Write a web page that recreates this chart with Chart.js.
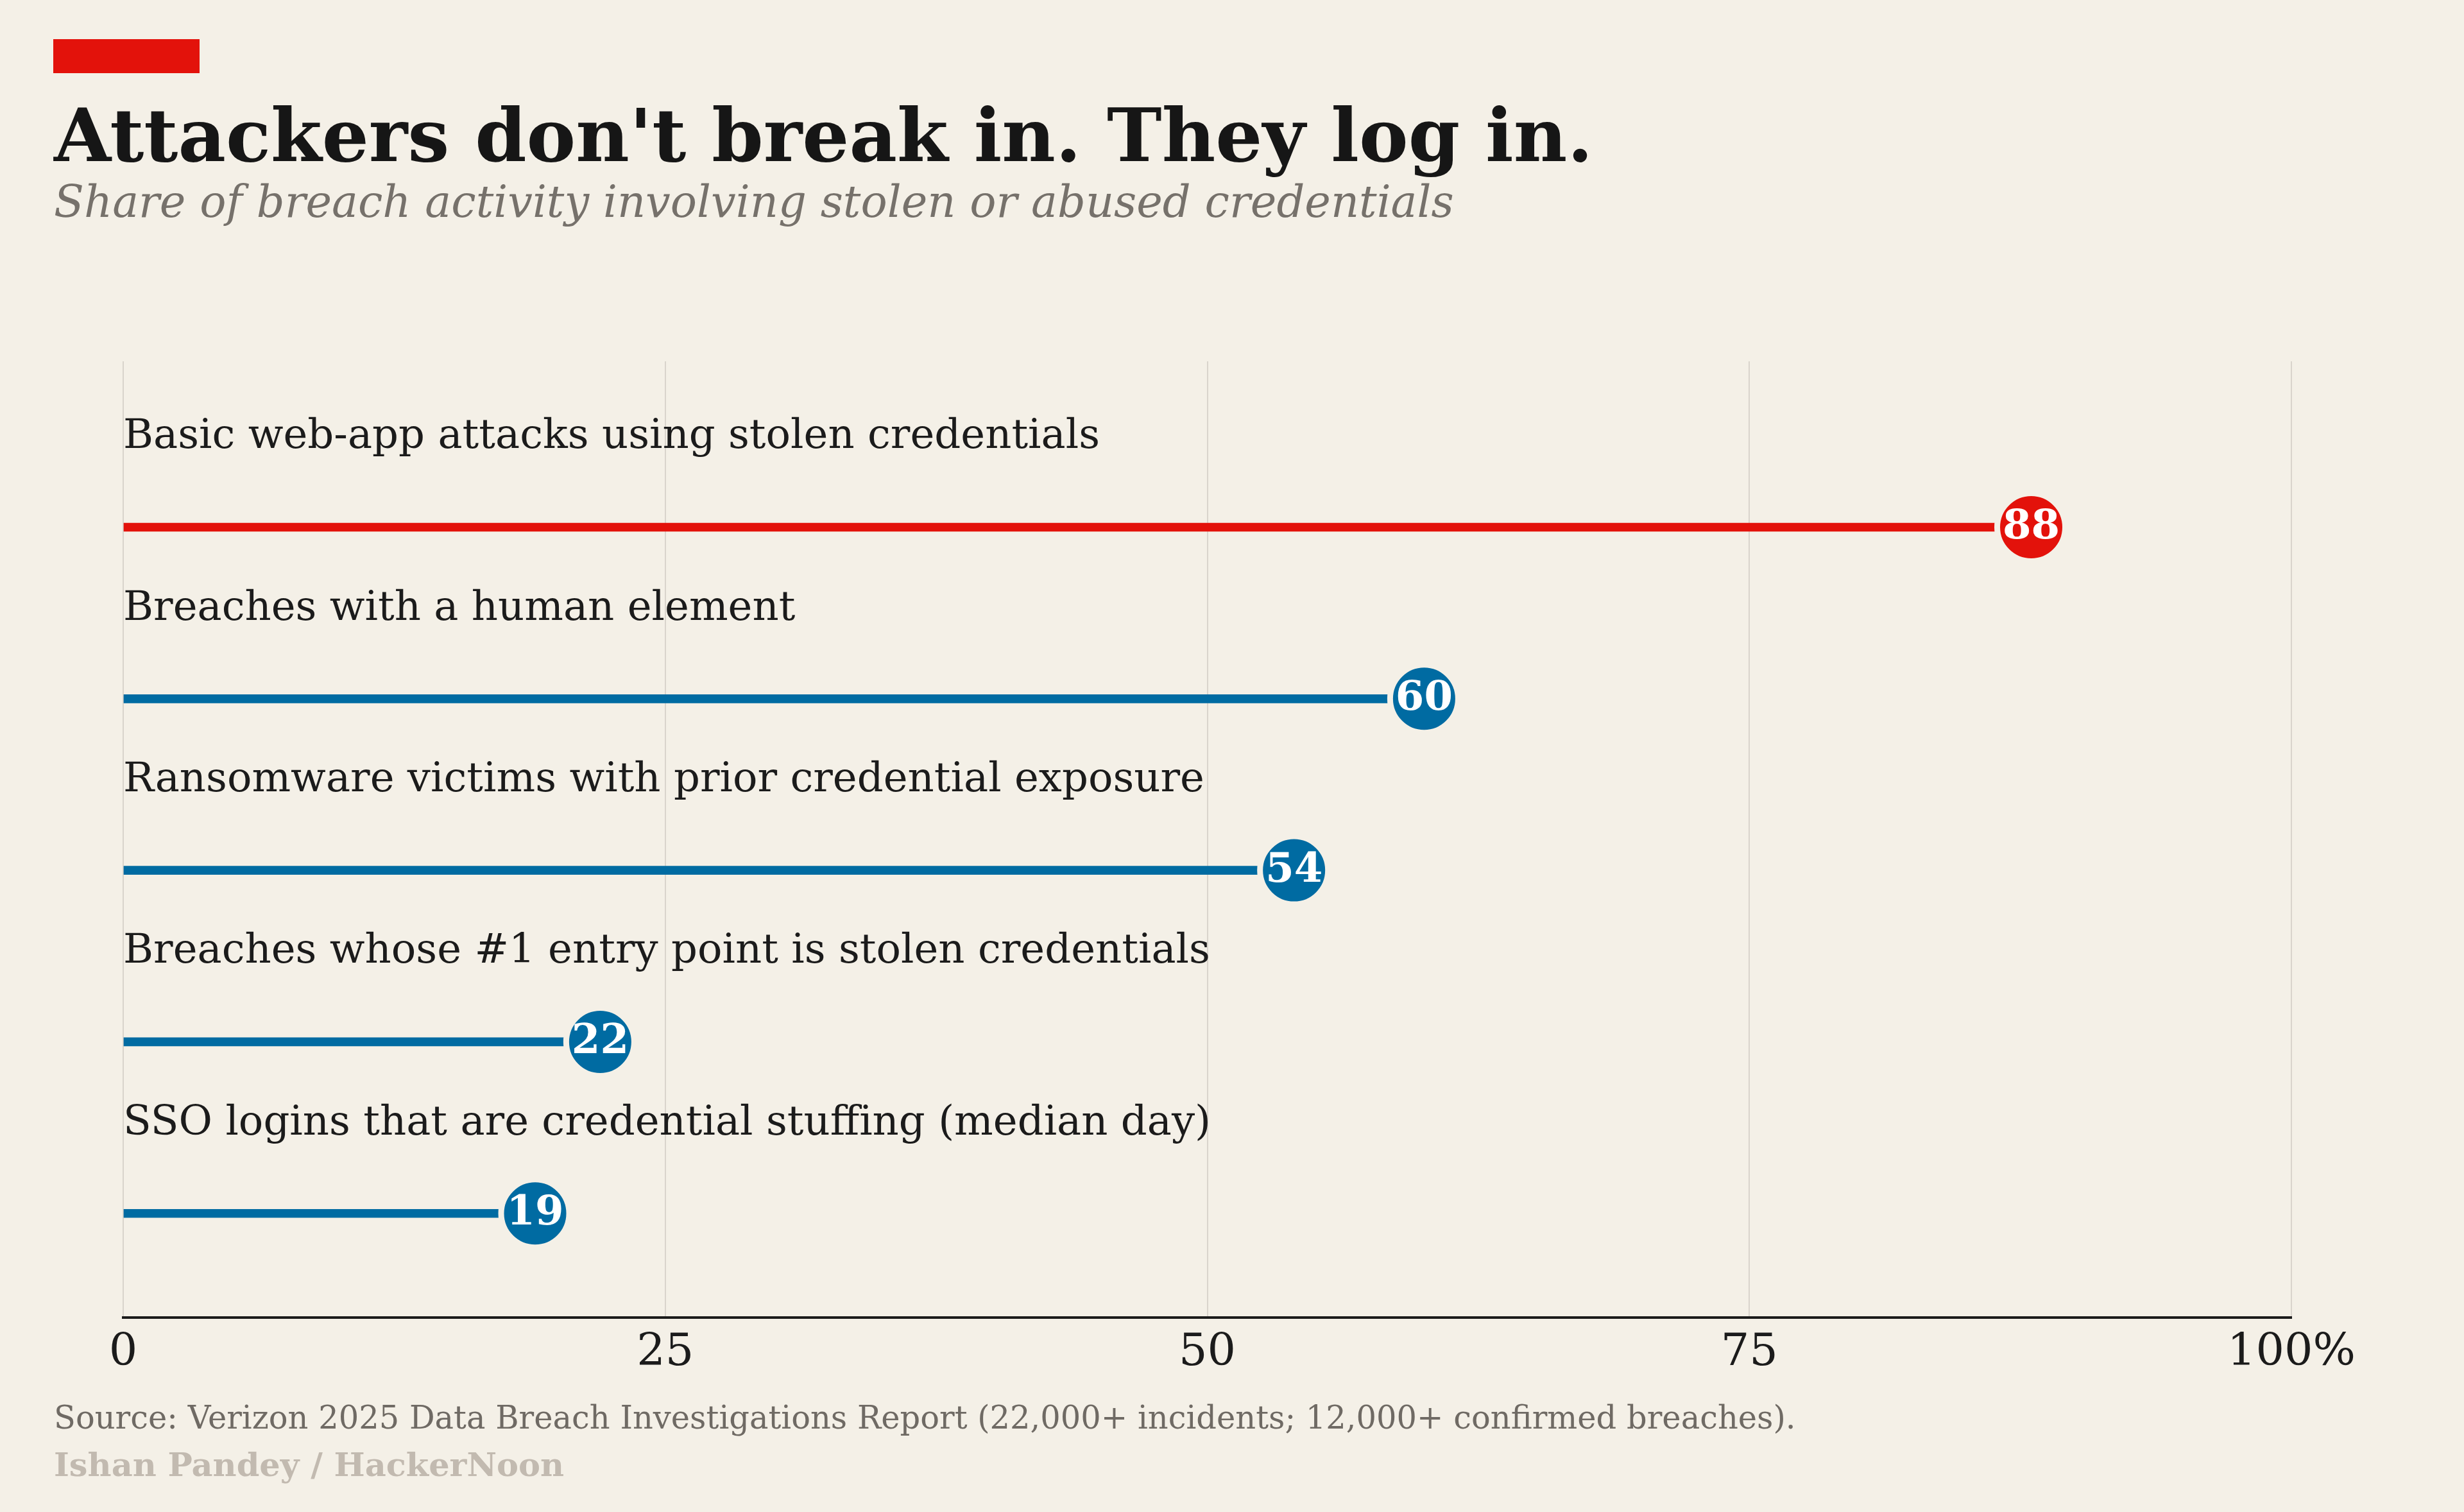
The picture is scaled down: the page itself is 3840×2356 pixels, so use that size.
<!DOCTYPE html>
<html>
<head>
<meta charset="utf-8">
<script src="https://cdn.jsdelivr.net/npm/chart.js@4.4.1/dist/chart.umd.min.js"></script>
<style>
    html, body { margin: 0; padding: 0; background: #f4f0e7; }
    #page { position: relative; width: 3840px; height: 2356px; overflow: hidden; font-family: "DejaVu Serif", serif; }
    #chartBox { position: absolute; left: 0; top: 0; width: 3840px; height: 2356px; }
    .tag { position: absolute; left: 83px; top: 61px; width: 228px; height: 53px; background: #e3120b; }
    .txt { position: absolute; left: 84px; white-space: nowrap; line-height: 1; }
    #title { top: 153px; font-size: 115px; font-weight: bold; color: #161616; }
    #subtitle { top: 280px; font-size: 68.6px; font-style: italic; color: #76716b; }
    #source { top: 2185px; font-size: 49.5px; color: #6f6a64; }
    #credit { top: 2257px; font-size: 51px; font-weight: bold; color: #c2bab0; }
</style>
</head>
<body>
<div id="page">
    <div id="chartBox"><canvas id="lollipop"></canvas></div>
    <div class="tag"></div>
    <div class="txt" id="title">Attackers don't break in. They log in.</div>
    <div class="txt" id="subtitle">Share of breach activity involving stolen or abused credentials</div>
    <div class="txt" id="source">Source: Verizon 2025 Data Breach Investigations Report (22,000+ incidents; 12,000+ confirmed breaches).</div>
    <div class="txt" id="credit">Ishan Pandey / HackerNoon</div>
</div>
<script>
// Data
const categories = [
    'Basic web-app attacks using stolen credentials',
    'Breaches with a human element',
    'Ransomware victims with prior credential exposure',
    'Breaches whose #1 entry point is stolen credentials',
    'SSO logins that are credential stuffing (median day)'
];
const values = [88, 60, 54, 22, 19];
const highlighted = [true, false, false, false, false];
const xTicks = [0, 25, 50, 75, 100];
const xTickLabels = ['0', '25', '50', '75', '100%'];

const RED = '#e3120b';
const BLUE = '#006ba2';
const BG = '#f4f0e7';
const FONT = '"DejaVu Serif", serif';

const colors = highlighted.map(h => h ? RED : BLUE);
const points = values.map((v, i) => ({ x: v, y: i }));

/**
 * Draws the row labels above each stem and the numbers inside the dots
 */
const labelPlugin = {
    id: 'lollipopLabels',
    afterDatasetsDraw(chart) {
        const ctx = chart.ctx;
        const xScale = chart.scales.x;
        const yScale = chart.scales.y;
        const dots = chart.getDatasetMeta(1).data;

        ctx.save();
        ctx.textAlign = 'left';
        ctx.textBaseline = 'alphabetic';
        ctx.fillStyle = '#1b1b1b';
        ctx.font = '64px ' + FONT;
        categories.forEach((name, i) => {
            ctx.fillText(name, xScale.getPixelForValue(0), yScale.getPixelForValue(i) - 123);
        });

        ctx.textAlign = 'center';
        ctx.textBaseline = 'middle';
        ctx.fillStyle = '#ffffff';
        ctx.font = 'bold 64px ' + FONT;
        dots.forEach((pt, i) => {
            ctx.fillText(String(values[i]), pt.x, pt.y + 1);
        });
        ctx.restore();
    }
};

new Chart(document.getElementById('lollipop'), {
    type: 'bar',
    data: {
        datasets: [
            {
                type: 'bar',
                data: points,
                backgroundColor: colors,
                borderWidth: 0,
                barThickness: 13,
                order: 2
            },
            {
                type: 'scatter',
                data: points,
                backgroundColor: colors,
                borderColor: BG,
                borderWidth: 9,
                pointRadius: 53,
                pointHoverRadius: 53,
                order: 1
            }
        ]
    },
    options: {
        indexAxis: 'y',
        responsive: true,
        maintainAspectRatio: false,
        animation: false,
        events: [],
        layout: {
            padding: { left: 192, right: 269, top: 563, bottom: 191 }
        },
        plugins: {
            legend: { display: false },
            tooltip: { enabled: false }
        },
        scales: {
            x: {
                type: 'linear',
                min: 0,
                max: 100,
                offset: false,
                afterBuildTicks: axis => {
                    axis.ticks = xTicks.map(v => ({ value: v }));
                },
                ticks: {
                    callback: (value) => xTickLabels[xTicks.indexOf(value)],
                    color: '#1b1b1b',
                    font: { family: FONT, size: 70 },
                    padding: 14,
                    maxRotation: 0
                },
                grid: {
                    color: '#d9d4cc',
                    lineWidth: 2,
                    drawTicks: false
                },
                border: {
                    display: true,
                    color: '#1b1b1b',
                    width: 4
                }
            },
            y: {
                type: 'linear',
                display: false,
                offset: false,
                reverse: true,
                min: -0.967,
                max: 4.607
            }
        }
    },
    plugins: [labelPlugin]
});
</script>
</body>
</html>
